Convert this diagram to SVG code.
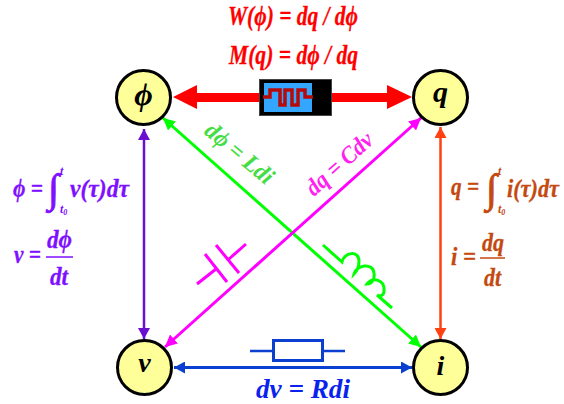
<svg xmlns="http://www.w3.org/2000/svg" width="564" height="404" viewBox="0 0 564 404">
<style>
text{font-family:"Liberation Serif","DejaVu Serif",serif;font-weight:bold;font-style:italic}
.n circle{fill:#ffff99;stroke:#000;stroke-width:3}
.n text{text-anchor:middle;fill:#000}
.red{fill:#ff0000;font-size:27px;stroke:#ff0000;stroke-width:.3}
.pur{fill:#7f0fff;font-size:25px;stroke:#7f0fff;stroke-width:.3}
.bro{fill:#c4490f;font-size:25px;stroke:#c4490f;stroke-width:.3}
.sm{font-size:12px;stroke-width:0}
.sub{font-size:8px}
.int{font-size:40px;font-style:normal;font-weight:normal;stroke-width:.9}
</style>
<defs>
<marker id="ap" markerUnits="userSpaceOnUse" markerWidth="12" markerHeight="12" refX="11" refY="6" orient="auto-start-reverse"><path d="M0 0L11 6L0 12z" fill="#6a0fd0"/></marker>
<marker id="ao" markerUnits="userSpaceOnUse" markerWidth="12" markerHeight="12" refX="11" refY="6" orient="auto-start-reverse"><path d="M0 0L11 6L0 12z" fill="#ff4010"/></marker>
<marker id="ag" markerUnits="userSpaceOnUse" markerWidth="13" markerHeight="12" refX="12" refY="6" orient="auto-start-reverse"><path d="M0 0L12 6L0 12z" fill="#00ff00"/></marker>
<marker id="am" markerUnits="userSpaceOnUse" markerWidth="13" markerHeight="12" refX="12" refY="6" orient="auto-start-reverse"><path d="M0 0L12 6L0 12z" fill="#ff00ff"/></marker>
<marker id="ab" markerUnits="userSpaceOnUse" markerWidth="12" markerHeight="12" refX="11" refY="6" orient="auto-start-reverse"><path d="M0 0L11 6L0 12z" fill="#0a3fcf"/></marker>
</defs>
<g id="connectors" fill="none">
<path d="M144 129V339" stroke="#6a0fd0" stroke-width="2.500" marker-start="url(#ap)" marker-end="url(#ap)"/>
<path d="M440.500 127V339" stroke="#ff4010" stroke-width="2.500" marker-start="url(#ao)" marker-end="url(#ao)"/>
<path d="M163 118L421 347" stroke="#00ff00" stroke-width="3" marker-start="url(#ag)" marker-end="url(#ag)"/>
<path d="M421 118L165 347" stroke="#ff00ff" stroke-width="3" marker-start="url(#am)" marker-end="url(#am)"/>
<path d="M174 367.500H412" stroke="#0a3fcf" stroke-width="3" marker-start="url(#ab)" marker-end="url(#ab)"/>
<path d="M173 97L197 85V93H259V102H197V109Z" fill="#ff0000"/>
<path d="M412 97L387 85V93H332V102H387V109Z" fill="#ff0000"/>
</g>
<g id="memristor">
<rect x="259.500" y="79.500" width="72" height="36" fill="#000" stroke="#444" stroke-width="1"/>
<rect x="264" y="83" width="48" height="29" fill="#33a6ff"/>
<path d="M263 97H270V90H280V105H285V90H292V105H298V90H305V97H313" fill="none" stroke="#b80a0a" stroke-width="3.500"/>
</g>
<g id="resistor" fill="none" stroke="#0a3fcf" stroke-width="2.500">
<path d="M250 351H273M323 351H345"/>
<rect x="273.500" y="340.500" width="49" height="20" stroke-width="3"/>
</g>
<g id="capacitor" fill="none" stroke="#ff00ff" stroke-width="3">
<path d="M197 284L216 269M205 254L227 282M216 245L239 273M229 259L246 244"/>
</g>
<g id="inductor" fill="none" stroke="#00ff00" stroke-width="3">
<path d="M323 245L342 262C344 252 359 250 359 261C359 267 357 271 354 274C356 265 373 262 374 273C375 279 372 284 367 284C373 276 385 280 384 291C384 295 381 297 377 295L392 308"/>
</g>
<g id="phi" class="n"><circle cx="143.500" cy="97.500" r="27"/><text x="143.500" y="105" style="font-size:32px">ϕ</text></g>
<g id="qn" class="n"><circle cx="440.500" cy="97.500" r="27"/><text x="440.500" y="102" style="font-size:30px">q</text></g>
<g id="vn" class="n"><circle cx="144.500" cy="367.500" r="27"/><text x="144.500" y="372" style="font-size:28px">v</text></g>
<g id="in" class="n"><circle cx="440.500" cy="367.500" r="27"/><text x="440.500" y="375" style="font-size:28px">i</text></g>
<text class="red" x="228" y="25" textLength="130" lengthAdjust="spacingAndGlyphs">W(ϕ) = dq / dϕ</text>
<text class="red" x="229" y="64" textLength="129" lengthAdjust="spacingAndGlyphs">M(q) = dϕ / dq</text>
<text x="13" y="197" class="pur" textLength="30" lengthAdjust="spacingAndGlyphs">ϕ =</text>
<text x="48" y="202" class="pur int">∫</text>
<text x="60" y="175" class="pur sm">t</text>
<text x="60" y="213" class="pur sm">t<tspan class="sub" dy="2">0</tspan></text>
<text x="70" y="197" class="pur" textLength="59" lengthAdjust="spacingAndGlyphs">v(τ)dτ</text>
<text x="14" y="263" class="pur" textLength="27" lengthAdjust="spacingAndGlyphs">v =</text>
<text x="47" y="248" class="pur" textLength="25" lengthAdjust="spacingAndGlyphs">dϕ</text>
<text x="50" y="285" class="pur" textLength="18" lengthAdjust="spacingAndGlyphs">dt</text>
<path d="M46 257H73" stroke="#7f0fff" stroke-width="1.500"/>
<text x="451" y="195" class="bro" textLength="28" lengthAdjust="spacingAndGlyphs">q =</text>
<text x="486" y="202" class="bro int">∫</text>
<text x="498" y="175" class="bro sm">t</text>
<text x="498" y="213" class="bro sm">t<tspan class="sub" dy="2">0</tspan></text>
<text x="507" y="197" class="bro" textLength="52" lengthAdjust="spacingAndGlyphs">i(τ)dτ</text>
<text x="451" y="265" class="bro" textLength="25" lengthAdjust="spacingAndGlyphs">i =</text>
<text x="482" y="251" class="bro" textLength="22" lengthAdjust="spacingAndGlyphs">dq</text>
<text x="484" y="286" class="bro" textLength="17" lengthAdjust="spacingAndGlyphs">dt</text>
<path d="M480 258H505" stroke="#c4490f" stroke-width="1.500"/>
<text transform="translate(203 133) rotate(40)" style="font-size:24px;fill:#44dd44" textLength="82" lengthAdjust="spacingAndGlyphs">dϕ = Ldi</text>
<text transform="translate(314 197) rotate(-42)" style="font-size:24px;fill:#ff22ee" textLength="82" lengthAdjust="spacingAndGlyphs">dq = Cdv</text>
<text x="256" y="398" style="font-size:27px;fill:#0a22ee" textLength="94" lengthAdjust="spacingAndGlyphs">dv = Rdi</text>
</svg>
